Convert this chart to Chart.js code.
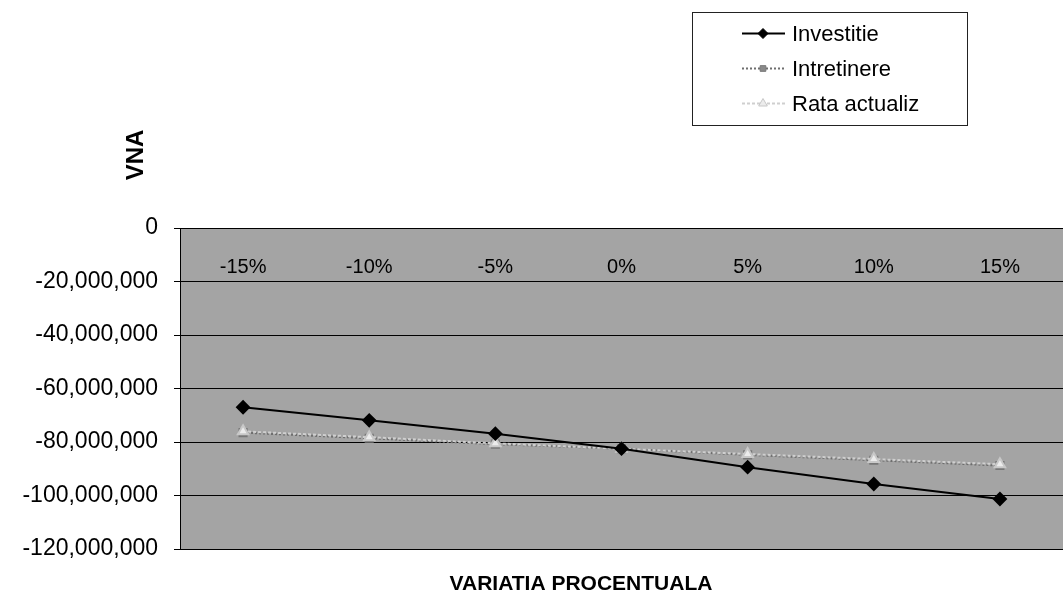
<!DOCTYPE html>
<html>
<head>
<meta charset="utf-8">
<script src="https://cdn.jsdelivr.net/npm/chart.js@4/dist/chart.umd.min.js"></script>
<style>
html,body{margin:0;padding:0;background:#fff;overflow:hidden;}
#wrap{position:relative;width:1063px;height:602px;}
</style>
</head>
<body>
<div id="wrap"><canvas id="c" width="1063" height="602"></canvas></div>
<script>
const categories = ['-15%', '-10%', '-5%', '0%', '5%', '10%', '15%'];
const investitie = [-67.0e6, -71.9e6, -76.9e6, -82.5e6, -89.4e6, -95.7e6, -101.3e6];
const intretinere = [-76.5e6, -78.6e6, -80.8e6, -82.5e6, -84.8e6, -86.8e6, -88.8e6];
const rataActualiz = [-76.0e6, -78.2e6, -80.5e6, -82.5e6, -84.5e6, -86.4e6, -88.3e6];
const yTicks = [0, -20e6, -40e6, -60e6, -80e6, -100e6, -120e6];
const seriesNames = ['Investitie', 'Intretinere', 'Rata actualiz'];
const yTitle = 'VNA';
const xTitle = 'VARIATIA PROCENTUALA';

const FONT = '"Liberation Sans", Arial, sans-serif';

const bgPlugin = {
  id: 'plotBg',
  beforeDraw(chart) {
    const {ctx, chartArea: a} = chart;
    ctx.save();
    ctx.fillStyle = '#a4a4a4';
    ctx.fillRect(a.left, a.top, a.right - a.left, a.bottom - a.top);
    ctx.restore();
  }
};

const titlesPlugin = {
  id: 'titles',
  afterDraw(chart) {
    const ctx = chart.ctx;
    ctx.save();
    ctx.fillStyle = '#000';
    ctx.textAlign = 'center';
    ctx.textBaseline = 'middle';
    ctx.font = 'bold 21px ' + FONT;
    ctx.fillText(xTitle, 581, 584);
    ctx.translate(136, 155);
    ctx.rotate(-Math.PI / 2);
    ctx.font = 'bold 24px ' + FONT;
    ctx.fillText(yTitle, 0, 0);
    ctx.restore();
  }
};

const legendPlugin = {
  id: 'boxLegend',
  afterDraw(chart) {
    const ctx = chart.ctx;
    const bx = 692, by = 12, bw = 275, bh = 113;
    ctx.save();
    ctx.fillStyle = '#fff';
    ctx.fillRect(bx, by, bw, bh);
    ctx.strokeStyle = '#222';
    ctx.lineWidth = 1;
    ctx.strokeRect(bx + 0.5, by + 0.5, bw, bh);
    const rows = [33, 68, 103];
    chart.data.datasets.forEach((ds, i) => {
      const y = rows[i];
      ctx.save();
      ctx.strokeStyle = ds.borderColor;
      ctx.lineWidth = ds.borderWidth;
      ctx.setLineDash(ds.borderDash || []);
      ctx.beginPath();
      ctx.moveTo(742, y + 0.5);
      ctx.lineTo(785, y + 0.5);
      ctx.stroke();
      ctx.restore();
      ctx.save();
      ctx.fillStyle = ds.pointBackgroundColor;
      ctx.strokeStyle = ds.pointBorderColor;
      Chart.helpers.drawPoint(ctx, {
        pointStyle: ds.pointStyle,
        radius: ds.pointRadius - 1,
        rotation: 0,
        borderWidth: 1
      }, 763, y + 0.5);
      ctx.restore();
      ctx.fillStyle = '#000';
      ctx.font = '22px ' + FONT;
      ctx.textAlign = 'left';
      ctx.textBaseline = 'middle';
      ctx.fillText(ds.label, 792, y + 2);
    });
    ctx.restore();
  }
};

new Chart(document.getElementById('c'), {
  type: 'line',
  data: {
    labels: categories,
    datasets: [
      {
        label: seriesNames[0], data: investitie, order: 0,
        borderColor: '#000', borderWidth: 2,
        pointStyle: 'rectRot', pointRadius: 6,
        pointBackgroundColor: '#000', pointBorderColor: '#000'
      },
      {
        label: seriesNames[1], data: intretinere, order: 2,
        borderColor: '#6e6e6e', borderWidth: 2, borderDash: [2, 2],
        pointStyle: 'rect', pointRadius: 5,
        pointBackgroundColor: '#8a8a8a', pointBorderColor: '#777'
      },
      {
        label: seriesNames[2], data: rataActualiz, order: 1,
        borderColor: '#cfcfcf', borderWidth: 2, borderDash: [3, 2],
        pointStyle: 'triangle', pointRadius: 6,
        pointBackgroundColor: '#ececec', pointBorderColor: '#c8c8c8'
      }
    ]
  },
  options: {
    responsive: false,
    animation: false,
    layout: { autoPadding: false, padding: { top: 228, bottom: 53, left: 0, right: -6 } },
    plugins: { legend: { display: false }, tooltip: { enabled: false }, title: { display: false } },
    elements: { line: { tension: 0 } },
    scales: {
      x: {
        type: 'category',
        position: { y: 0 },
        offset: true,
        grid: { display: false, drawTicks: true, tickLength: 27 },
        border: { display: true, color: '#000', width: 1 },
        ticks: {
          color: '#000', font: { family: FONT, size: 20 },
          padding: 0, maxRotation: 0, autoSkip: false
        }
      },
      y: {
        min: -120e6, max: 0,
        afterFit(scale) { scale.width = 180; },
        afterBuildTicks(scale) { scale.ticks = yTicks.map(v => ({ value: v })); },
        grid: { color: '#000', lineWidth: 1, drawTicks: true, tickLength: 6, tickColor: '#000' },
        border: { display: true, color: '#000', width: 1 },
        ticks: {
          color: '#000', font: { family: FONT, size: 23 }, padding: 16,
          callback: v => v.toLocaleString('en-US')
        }
      }
    }
  },
  plugins: [bgPlugin, legendPlugin, titlesPlugin]
});
</script>
</body>
</html>
